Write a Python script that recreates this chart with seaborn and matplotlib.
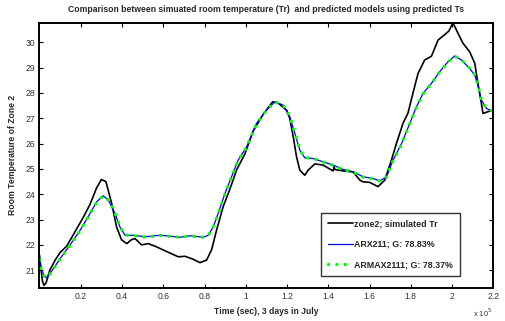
import matplotlib
matplotlib.use("Agg")
import matplotlib.pyplot as plt
import seaborn as sns
import pandas as pd

# Time axis in units of 1e5 seconds
t_sim = [0.0, 0.008, 0.015, 0.022, 0.032, 0.05, 0.076, 0.10, 0.132, 0.164, 0.213, 0.245, 0.277,
         0.30, 0.322, 0.35, 0.374, 0.398, 0.423, 0.445, 0.463, 0.495, 0.527, 0.56, 0.60,
         0.64, 0.673, 0.705, 0.74, 0.778, 0.81, 0.834, 0.859, 0.89, 0.923, 0.955, 0.996,
         1.036, 1.084, 1.13, 1.157, 1.198, 1.213, 1.23, 1.246, 1.262, 1.286, 1.302, 1.335,
         1.375, 1.423, 1.428, 1.431, 1.472, 1.52, 1.553, 1.568, 1.60, 1.641, 1.674, 1.706,
         1.73, 1.762, 1.786, 1.81, 1.835, 1.867, 1.90, 1.932, 1.964, 1.985, 2.004, 2.029,
         2.053, 2.085, 2.11, 2.125, 2.142, 2.15, 2.174, 2.2]
# Simulated room temperature of zone 2
tr_sim = [21.6, 21.0, 20.55, 20.4, 20.5, 21.0, 21.4, 21.7, 21.95, 22.4, 23.1, 23.6, 24.25,
          24.58, 24.5, 23.64, 22.7, 22.2, 22.05, 22.2, 22.25, 22.0, 22.05, 21.95, 21.8,
          21.65, 21.53, 21.55, 21.45, 21.3, 21.4, 21.8, 22.6, 23.5, 24.2, 24.95, 25.6,
          26.5, 27.15, 27.65, 27.6, 27.32, 27.0, 26.27, 25.48, 24.95, 24.75, 24.95, 25.2,
          25.15, 24.92, 25.08, 24.98, 24.92, 24.88, 24.56, 24.49, 24.47, 24.3, 24.56, 25.35,
          26.0, 26.8, 27.2, 27.98, 28.77, 29.3, 29.45, 30.09, 30.3, 30.45, 30.77, 30.35,
          29.96, 29.63, 29.17, 28.38, 27.59, 27.19, 27.26, 27.32]

# ARX211 and ARMAX2111 model outputs
t_mod = [0.0, 0.01, 0.022, 0.032, 0.051, 0.075, 0.10, 0.148, 0.197, 0.245, 0.277, 0.309,
         0.334, 0.366, 0.39, 0.415, 0.455, 0.511, 0.584, 0.616, 0.68, 0.729, 0.794, 0.818,
         0.842, 0.866, 0.899, 0.931, 0.963, 1.004, 1.052, 1.10, 1.141, 1.181, 1.213, 1.238,
         1.262, 1.286, 1.326, 1.375, 1.423, 1.472, 1.52, 1.568, 1.617, 1.65, 1.682, 1.714,
         1.755, 1.795, 1.827, 1.859, 1.90, 1.94, 1.98, 2.013, 2.045, 2.085, 2.11, 2.125,
         2.142, 2.166, 2.2]
tr_arx = [21.45, 21.0, 20.8, 20.7, 20.87, 21.15, 21.46, 21.99, 22.58, 23.24, 23.7, 23.94,
          23.77, 23.24, 22.71, 22.38, 22.38, 22.32, 22.38, 22.36, 22.3, 22.36, 22.3, 22.38,
          22.71, 23.24, 24.03, 24.69, 25.35, 25.87, 26.8, 27.32, 27.65, 27.52, 27.06, 26.4,
          25.74, 25.44, 25.41, 25.28, 25.15, 24.98, 24.89, 24.69, 24.62, 24.53, 24.69, 25.35,
          26.0, 26.8, 27.45, 27.98, 28.38, 28.84, 29.23, 29.46, 29.3, 28.97, 28.7, 28.3,
          27.72, 27.39, 27.26]
tr_armax = [21.4, 20.95, 20.78, 20.7, 20.85, 21.13, 21.44, 21.97, 22.56, 23.22, 23.69, 23.93,
            23.78, 23.26, 22.73, 22.39, 22.37, 22.31, 22.37, 22.35, 22.3, 22.35, 22.3, 22.38,
            22.7, 23.22, 24.0, 24.67, 25.33, 25.86, 26.78, 27.31, 27.64, 27.53, 27.08, 26.43,
            25.76, 25.45, 25.41, 25.27, 25.14, 24.97, 24.88, 24.68, 24.61, 24.52, 24.68, 25.33,
            25.98, 26.78, 27.43, 27.96, 28.37, 28.83, 29.22, 29.45, 29.31, 28.98, 28.72, 28.32,
            27.74, 27.4, 27.27]

labels = ["zone2; simulated Tr", "ARX211; G: 78.83%", "ARMAX2111; G: 78.37%"]
x_ticks = [0.2, 0.4, 0.6, 0.8, 1.0, 1.2, 1.4, 1.6, 1.8, 2.0, 2.2]
x_tick_labels = ["0.2", "0.4", "0.6", "0.8", "1", "1.2", "1.4", "1.6", "1.8", "2", "2.2"]
y_ticks = [21, 22, 23, 24, 25, 26, 27, 28, 29, 30]

sns.set_style("white")
plt.rcParams["font.family"] = ["Liberation Sans", "DejaVu Sans"]

df_sim = pd.DataFrame({"t": [v * 1e5 for v in t_sim], "T": tr_sim})
df_arx = pd.DataFrame({"t": [v * 1e5 for v in t_mod], "T": tr_arx})
df_armax = pd.DataFrame({"t": [v * 1e5 for v in t_mod], "T": tr_armax})

fig = plt.figure(figsize=(5.06, 3.21), dpi=100)
ax = fig.add_axes([0.078, 0.103, 0.897, 0.826])

sns.lineplot(data=df_sim, x="t", y="T", ax=ax, color="black", linewidth=1.2,
             label=labels[0], sort=False)
sns.lineplot(data=df_arx, x="t", y="T", ax=ax, color="#0000ff", linewidth=0.9,
             label=labels[1], sort=False)
sns.lineplot(data=df_armax, x="t", y="T", ax=ax, color="#00ff00", linewidth=2.5,
             linestyle=(0, (0.01, 2.4)), dash_capstyle="round",
             label=labels[2], sort=False)

ax.set_xlim(0, 2.2e5)
ax.set_ylim(20.3, 30.77)
ax.set_xticks([v * 1e5 for v in x_ticks])
ax.set_xticklabels(x_tick_labels)
ax.set_yticks(y_ticks)
ax.set_yticklabels([str(v) for v in y_ticks])
ax.tick_params(direction="in", length=3, width=0.8, labelsize=6.2, colors="black",
               top=True, right=True, bottom=True, left=True, pad=3)
ax.tick_params(axis="x", labelcolor="#333333")
ax.tick_params(axis="y", labelcolor="#333333")
for s in ax.spines.values():
    s.set_color("black")
    s.set_linewidth(1.4)

ax.set_xlabel("Time (sec), 3 days in July", fontsize=6.2, fontweight="bold", labelpad=4)
ax.set_ylabel("Room Temperature of Zone 2", fontsize=6.2, fontweight="bold", labelpad=6)
ax.set_title("Comparison between simuated room temperature (Tr)  and predicted models using predicted Ts",
             fontsize=6.2, fontweight="bold", pad=8)
fig.text(0.935, 0.012, r"x 10$^5$", fontsize=5.5, color="#333333")

leg = ax.legend(loc="lower left", bbox_to_anchor=(0.62, 0.045),
                prop={"weight": "bold", "size": 6.4}, frameon=True, fancybox=False,
                edgecolor="black", handlelength=2.9, handletextpad=0.1,
                labelspacing=1.3, borderpad=0.75, borderaxespad=0)
leg.get_frame().set_linewidth(1.0)

fig.savefig("out.png", dpi=100)
